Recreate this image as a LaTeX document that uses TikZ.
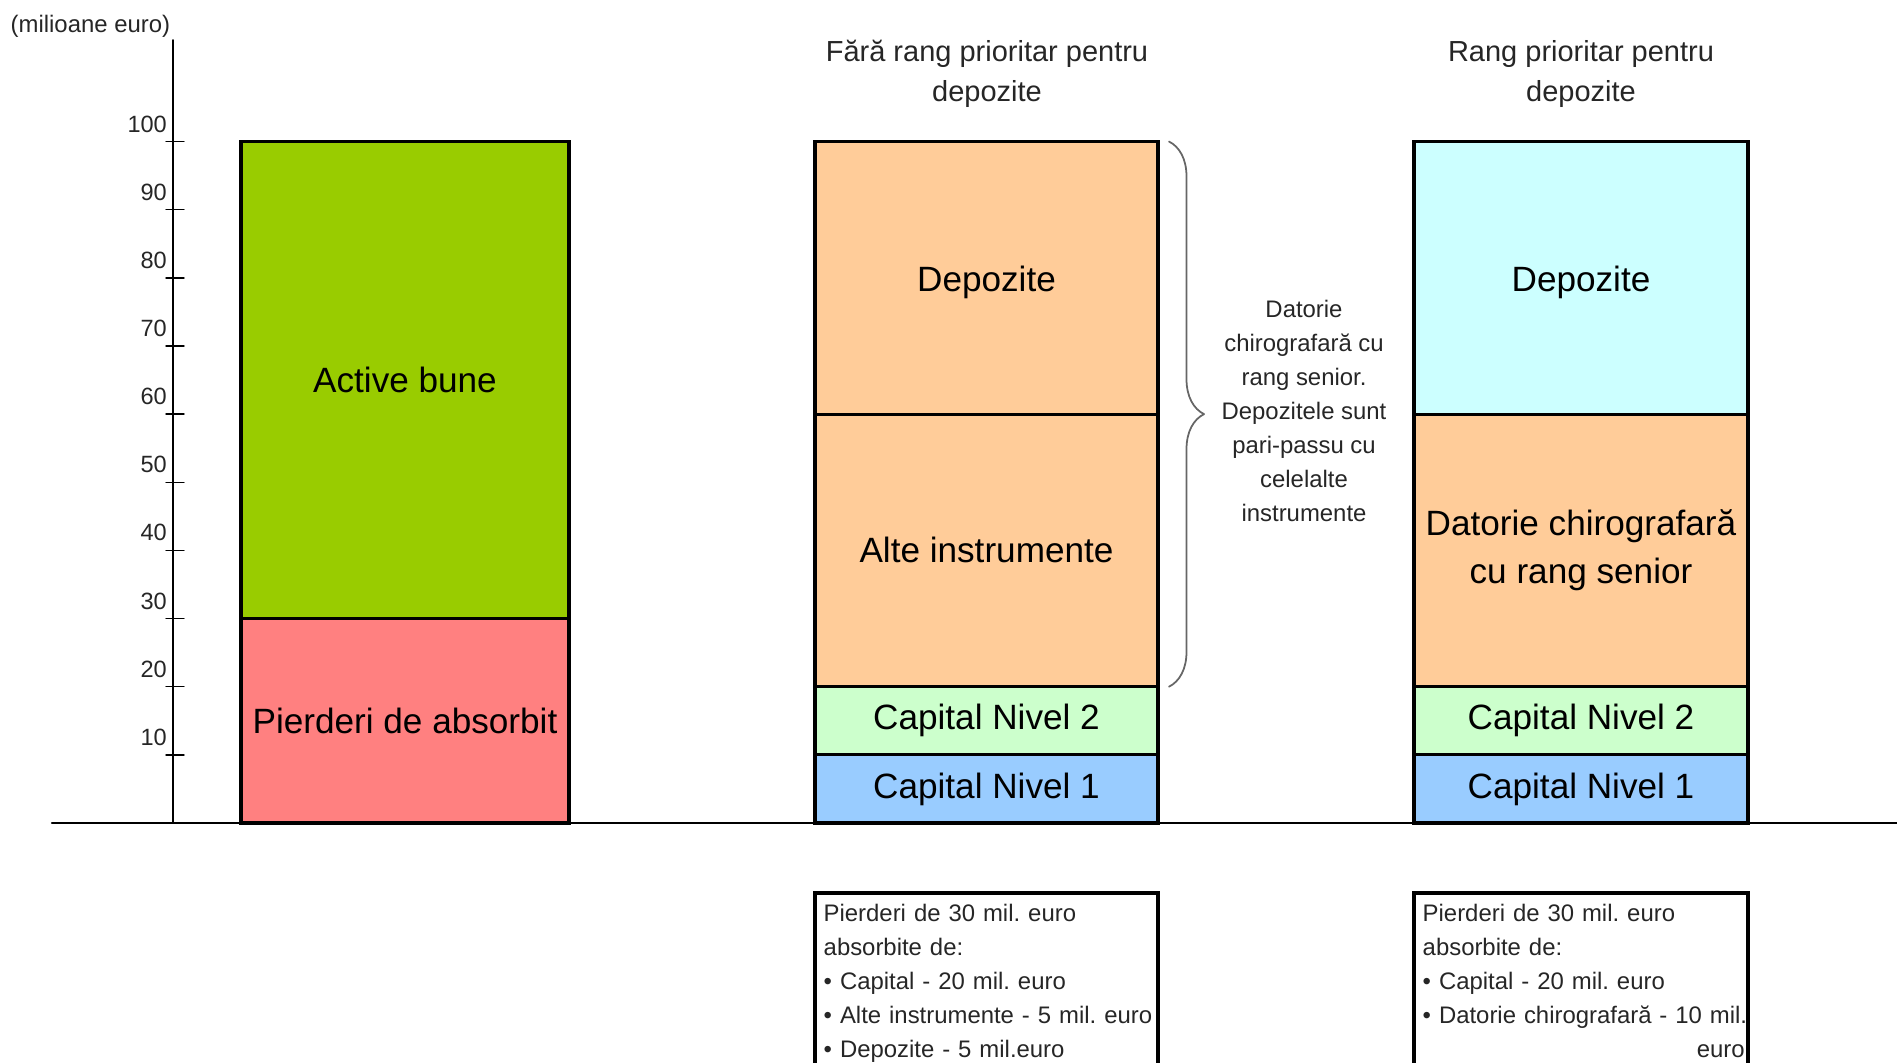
\documentclass[tikz,border=0pt]{standalone}
\usepackage{fontspec}
\setmainfont{Liberation Sans}
\usepackage{tikz}
\usetikzlibrary{decorations.pathreplacing}

\definecolor{cActiv}{RGB}{153,204,0}
\definecolor{cPierd}{RGB}{255,128,128}
\definecolor{cPortoc}{RGB}{255,204,153}
\definecolor{cVerde}{RGB}{204,255,204}
\definecolor{cAlbast}{RGB}{153,204,255}
\definecolor{cTurcoaz}{RGB}{204,255,255}

\tikzset{
  seg/.style={draw=black, line width=0.9pt, line join=miter},
  lbl/.style={font=\fontsize{10}{13.8}\selectfont, align=center},
  titlu/.style={font=\fontsize{8.25}{11.4}\selectfont, align=center, text=black!85},
  mic/.style={font=\fontsize{6.8}{9.7}\selectfont, align=center, text=black!85},
  ticklbl/.style={font=\fontsize{6.7}{8}\selectfont, anchor=base east, inner sep=0pt, yshift=0.095cm, text=black!85},
  cutie/.style={draw=black, line width=0.9pt, line join=miter},
  cutietext/.style={font=\fontsize{6.8}{9.7}\selectfont, align=left, anchor=north west, inner sep=0pt, text=black!85}
}

\begin{document}
\frenchspacing
\begin{tikzpicture}[line cap=round,line join=round,x=1.0cm,y=1.0cm]
\useasboundingbox (0,0) rectangle (18.97,10.62);
\clip (0,0) rectangle (18.97,10.62);

\node[mic, anchor=west, inner sep=0pt] (unit) at (0.10,10.36) {(milioane euro)};

\draw[line width=0.7pt] (0.52,2.39)--(18.97,2.39);
\draw[line width=0.5pt] (1.73,2.39)--(1.73,10.22);

\begin{scope}[yshift=2.39cm, y=0.06815cm]

\draw (1.66,10)--(1.84,10);
\draw (1.66,20)--(1.84,20);
\draw (1.66,30)--(1.84,30);
\draw (1.66,40)--(1.84,40);
\draw (1.66,50)--(1.84,50);
\draw (1.66,60)--(1.84,60);
\draw (1.66,70)--(1.84,70);
\draw (1.66,80)--(1.84,80);
\draw (1.66,90)--(1.84,90);
\draw (1.66,100)--(1.84,100);

\draw (1.675,10) node[ticklbl] (t10) {10};
\draw (1.675,20) node[ticklbl] (t20) {20};
\draw (1.675,30) node[ticklbl] (t30) {30};
\draw (1.675,40) node[ticklbl] (t40) {40};
\draw (1.675,50) node[ticklbl] (t50) {50};
\draw (1.675,60) node[ticklbl] (t60) {60};
\draw (1.675,70) node[ticklbl] (t70) {70};
\draw (1.675,80) node[ticklbl] (t80) {80};
\draw (1.675,90) node[ticklbl] (t90) {90};
\draw (1.675,100) node[ticklbl] (t100) {100};

% active
\draw[seg, fill=cPierd] (2.41,0) rectangle (5.69,30) node[midway, lbl] (pierd) {Pierderi de absorbit};
\draw[seg, fill=cActiv] (2.41,30) rectangle (5.69,100) node[midway, lbl] (activ) {Active bune};

% fara rang prioritar
\draw[seg, fill=cAlbast] (8.15,0) rectangle (11.58,10) node[midway, lbl] (capa) {Capital Nivel 1};
\draw[seg, fill=cVerde] (8.15,10) rectangle (11.58,20) node[midway, lbl] (capb) {Capital Nivel 2};
\draw[seg, fill=cPortoc] (8.15,20) rectangle (11.58,60) node[midway, lbl] (alte) {Alte instrumente};
\draw[seg, fill=cPortoc] (8.15,60) rectangle (11.58,100) node[midway, lbl, yshift=-0.05cm] (depa) {Depozite};

% rang prioritar
\draw[seg, fill=cAlbast] (14.14,0) rectangle (17.48,10) node[midway, lbl] (capc) {Capital Nivel 1};
\draw[seg, fill=cVerde] (14.14,10) rectangle (17.48,20) node[midway, lbl] (capd) {Capital Nivel 2};
\draw[seg, fill=cPortoc] (14.14,20) rectangle (17.48,60) node[midway, lbl] (dator) {Datorie chirografară\\cu rang senior};
\draw[seg, fill=cTurcoaz] (14.14,60) rectangle (17.48,100) node[midway, lbl, yshift=-0.05cm] (depb) {Depozite};

\coordinate (acolsus) at (11.69,100);
\coordinate (acoljos) at (11.69,20);
\draw[black!60, line width=0.5pt, decorate, decoration={brace, amplitude=0.35cm}] (acolsus) -- (acoljos);

\end{scope}

\node[mic] (nota) at (13.04,6.51) {Datorie\\chirografară cu\\rang senior.\\Depozitele sunt\\pari-passu cu\\celelalte\\instrumente};

\node[titlu] (tita) at (9.87,9.88) {Fără rang prioritar pentru\\depozite};
\node[titlu] (titb) at (15.81,9.88) {Rang prioritar pentru\\depozite};

\draw[cutie] (8.15,1.69) rectangle (11.58,-0.3);
\node[cutietext, text width=3.32cm] (expa) at (8.23,1.59) {Pierderi de 30 mil. euro\\absorbite de:\\• Capital - 20 mil. euro\\\mbox{• Alte instrumente - 5 mil. euro}\\• Depozite - 5 mil.euro};

\draw[cutie] (14.14,1.69) rectangle (17.48,-0.3);
\node[cutietext, text width=3.22cm] (expb) at (14.22,1.59) {Pierderi de 30 mil. euro\\absorbite de:\\• Capital - 20 mil. euro\\\mbox{• Datorie chirografară - 10 mil.}\\\mbox{}\hfill euro};

\end{tikzpicture}
\end{document}
